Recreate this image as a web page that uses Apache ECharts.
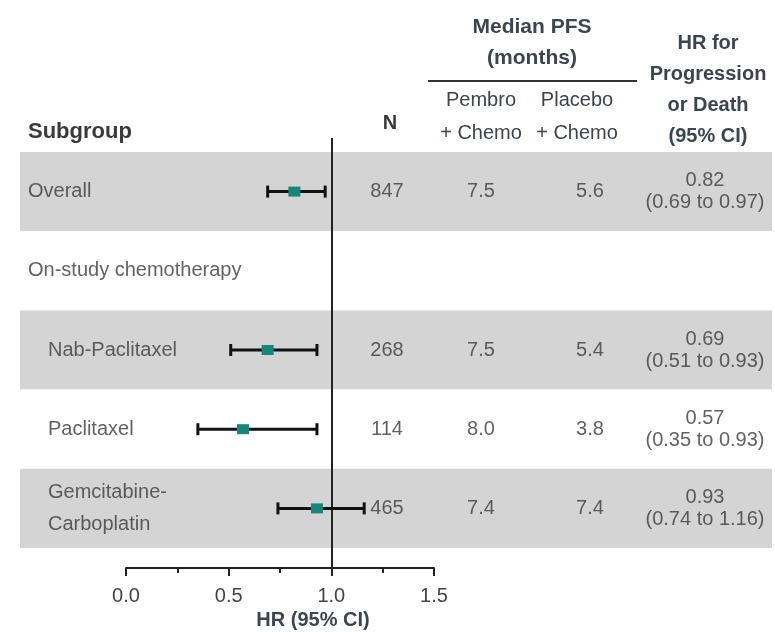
<!DOCTYPE html>
<html>
<head>
<meta charset="utf-8">
<script src="https://cdn.jsdelivr.net/npm/echarts@6/dist/echarts.min.js"></script>
<style>
  html, body { margin: 0; padding: 0; background: #fff; }
  #chart { width: 775px; height: 632px; }
</style>
</head>
<body>
<div id="chart"></div>
<script>
// Data
const subgroups = ['Overall', 'On-study chemotherapy', 'Nab-Paclitaxel', 'Paclitaxel', 'Gemcitabine-\nCarboplatin'];
const indent = [0, 0, 1, 1, 1];
const nValues = ['847', '', '268', '114', '465'];
const pembroPfs = ['7.5', '', '7.5', '8.0', '7.4'];
const placeboPfs = ['5.6', '', '5.4', '3.8', '7.4'];
const hr = [0.82, null, 0.69, 0.57, 0.93];
const ciLow = [0.69, null, 0.51, 0.35, 0.74];
const ciHigh = [0.97, null, 0.93, 0.93, 1.16];
const xTicks = [0, 0.5, 1.0, 1.5];

// Layout
const FONT = '"Liberation Sans", Arial, sans-serif';
const TEXT = '#3a3a3a';
const HEAD = '#3a4550';
const TABLE_TOP = 152;
const ROW_H = 79.2;
const AXIS_Y = 568;
const REF_TOP = 138;
const COL = { sub0: 28, sub1: 48, n: 387, pembro: 481, placebo: 590, hr: 705 };

// forest grid spans from the top of the reference line down to the axis
const yMin = -0.5 - (TABLE_TOP - REF_TOP) / ROW_H;
const yMax = -0.5 + (AXIS_Y - TABLE_TOP) / ROW_H;

const chart = echarts.init(document.getElementById('chart'));

function textSeries(x, texts, extra) {
    return Object.assign({
        type: 'scatter',
        xAxisIndex: 1,
        yAxisIndex: 1,
        symbolSize: 0,
        silent: true,
        data: texts.map((t, i) => ({ value: [typeof x === 'function' ? x(i) : x, i], name: t })),
        label: {
            show: true,
            position: 'inside',
            formatter: p => p.name,
            color: TEXT,
            fontFamily: FONT,
            fontSize: 20,
            align: 'center',
            verticalAlign: 'middle'
        }
    }, extra || {});
}

const forestData = hr.map((h, i) => h == null ? null : [h, i, ciLow[i], ciHigh[i]]).filter(d => d);

const option = {
    animation: false,
    grid: [
        { left: 126, width: 308, top: REF_TOP, height: AXIS_Y - REF_TOP, outerBoundsMode: 'none', containLabel: false },
        { left: 20, width: 752, top: TABLE_TOP, height: ROW_H * subgroups.length, outerBoundsMode: 'none', containLabel: false }
    ],
    xAxis: [
        {
            type: 'value', gridIndex: 0, min: 0, max: 1.5, interval: 0.5,
            axisLine: { show: true, onZero: false, lineStyle: { color: '#222', width: 2 } },
            axisTick: { show: true, length: 8, lineStyle: { color: '#222', width: 2 } },
            minorTick: { show: true, splitNumber: 2, length: 5, lineStyle: { color: '#222', width: 2 } },
            splitLine: { show: false },
            axisLabel: {
                margin: 18, color: '#444', fontFamily: FONT, fontSize: 20,
                formatter: v => v.toFixed(1)
            },
            name: 'HR (95% CI)',
            nameLocation: 'middle',
            nameGap: 40,
            nameTextStyle: { color: HEAD, fontFamily: FONT, fontSize: 20, fontWeight: 'bold', padding: [0, 0, 0, 66] }
        },
        { type: 'value', gridIndex: 1, min: 20, max: 772, show: false }
    ],
    yAxis: [
        { type: 'value', gridIndex: 0, min: yMin, max: yMax, inverse: true, show: false },
        {
            type: 'category', gridIndex: 1, data: subgroups, inverse: true,
            axisLine: { show: false }, axisTick: { show: false }, axisLabel: { show: false },
            splitLine: { show: false },
            splitArea: { show: true, areaStyle: { color: ['#d4d4d4', '#ffffff'] } }
        }
    ],
    series: [
        textSeries(i => indent[i] ? COL.sub1 : COL.sub0, subgroups, {
            label: {
                show: true, position: 'inside', formatter: p => p.name, color: TEXT,
                fontFamily: FONT, fontSize: 20, align: 'left', verticalAlign: 'middle', lineHeight: 32
            }
        }),
        textSeries(COL.n, nValues),
        textSeries(COL.pembro, pembroPfs),
        textSeries(COL.placebo, placeboPfs),
        textSeries(COL.hr, hr.map((h, i) => h == null ? '' : h.toFixed(2) + '\n(' + ciLow[i].toFixed(2) + ' to ' + ciHigh[i].toFixed(2) + ')'), {
            label: {
                show: true, position: 'inside', formatter: p => p.name, color: TEXT,
                fontFamily: FONT, fontSize: 20, align: 'center', verticalAlign: 'middle', lineHeight: 22,
                padding: [4, 0, 0, 0]
            }
        }),
        {
            type: 'custom',
            xAxisIndex: 0,
            yAxisIndex: 0,
            z: 5,
            data: forestData,
            renderItem: (params, api) => {
                const p = api.coord([api.value(0), api.value(1)]);
                const lo = api.coord([api.value(2), api.value(1)]);
                const hi = api.coord([api.value(3), api.value(1)]);
                const cap = 6;
                const stroke = { stroke: '#111', lineWidth: 3 };
                return {
                    type: 'group',
                    children: [
                        { type: 'line', shape: { x1: lo[0], y1: lo[1], x2: hi[0], y2: hi[1] }, style: stroke },
                        { type: 'line', shape: { x1: lo[0], y1: lo[1] - cap, x2: lo[0], y2: lo[1] + cap }, style: stroke },
                        { type: 'line', shape: { x1: hi[0], y1: hi[1] - cap, x2: hi[0], y2: hi[1] + cap }, style: stroke },
                        { type: 'rect', shape: { x: p[0] - 6, y: p[1] - 5, width: 12, height: 10 }, style: { fill: '#14877a' } }
                    ]
                };
            },
            markLine: {
                silent: true,
                symbol: 'none',
                z: 4,
                label: { show: false },
                lineStyle: { color: '#222', width: 2, type: 'solid' },
                data: [[
                    { coord: [1, yMin] },
                    { coord: [1, yMax] }
                ]]
            }
        }
    ],
    graphic: [
        { type: 'text', x: 28, y: 132, style: { text: 'Subgroup', font: 'bold 22px ' + FONT, fill: TEXT, align: 'left', verticalAlign: 'middle' } },
        { type: 'text', x: 390, y: 123, style: { text: 'N', font: 'bold 20px ' + FONT, fill: TEXT, align: 'center', verticalAlign: 'middle' } },
        { type: 'text', x: 532, y: 43, style: { text: 'Median PFS\n(months)', font: 'bold 21px ' + FONT, fill: HEAD, align: 'center', verticalAlign: 'middle', lineHeight: 31 } },
        { type: 'line', shape: { x1: 428, y1: 81, x2: 637, y2: 81 }, style: { stroke: '#333', lineWidth: 2 } },
        { type: 'text', x: 481, y: 117, style: { text: 'Pembro\n+ Chemo', font: '20px ' + FONT, fill: HEAD, align: 'center', verticalAlign: 'middle', lineHeight: 33 } },
        { type: 'text', x: 577, y: 117, style: { text: 'Placebo\n+ Chemo', font: '20px ' + FONT, fill: HEAD, align: 'center', verticalAlign: 'middle', lineHeight: 33 } },
        { type: 'text', x: 708, y: 90, style: { text: 'HR for\nProgression\nor Death\n(95% CI)', font: 'bold 20px ' + FONT, fill: HEAD, align: 'center', verticalAlign: 'middle', lineHeight: 31 } }
    ]
};

chart.setOption(option);
</script>
</body>
</html>
